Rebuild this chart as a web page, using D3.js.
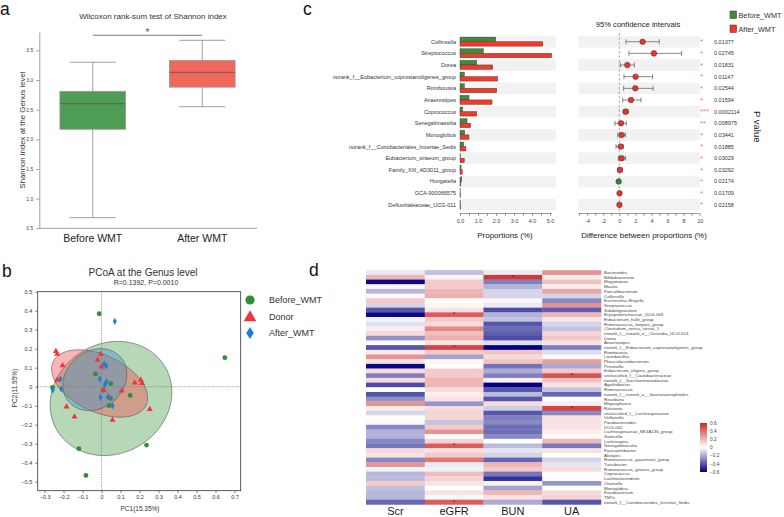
<!DOCTYPE html>
<html><head><meta charset="utf-8">
<script src="https://cdn.jsdelivr.net/npm/d3@7"></script>
<style>body{margin:0;background:#fff}svg{display:block}text{font-family:Arial,"Liberation Sans",sans-serif}</style>
</head><body><svg id="c" width="784" height="517"></svg>
<script>
// ---------- Panel a data ----------
const boxGroups = ["Before WMT", "After WMT"];
const boxMin = [0.68, 2.55];
const boxQ1 = [2.17, 2.88];
const boxMedian = [2.6, 3.13];
const boxQ3 = [2.81, 3.33];
const boxMax = [3.3, 3.67];
const boxColors = ["#4f9d54", "#f0675c"];
const shannonTicks = [0.5, 1, 1.5, 2, 2.5, 3, 3.5];

// ---------- Panel b data ----------
const pcoaGroups = ["Before_WMT", "Donor", "After_WMT"];
const beforeX = [-0.012, 0.649, -0.032, -0.258, 0.049, 0.009, 0.047, 0.039, 0.151, 0.237, -0.119, -0.082];
const beforeY = [0.384, 0.153, 0.067, -0.004, 0.016, -0.019, -0.061, -0.100, -0.046, -0.307, -0.326, -0.467];
const donorX = [-0.240, -0.233, -0.205, -0.233, -0.004, -0.021, 0.000, 0.012, 0.037, 0.107, 0.175, 0.207, 0.214, 0.254, 0.058, -0.142, -0.184];
const donorY = [0.186, 0.172, 0.111, 0.037, 0.172, 0.140, 0.105, -0.018, -0.053, -0.021, 0.021, 0.035, 0.018, -0.119, -0.175, -0.158, -0.105];
const afterX = [0.070, -0.216, -0.256, -0.212, 0.014, 0.025, -0.009, 0.026, 0.018, -0.005, 0.035, 0.058];
const afterY = [0.344, 0.040, -0.018, -0.012, 0.119, 0.109, 0.040, 0.026, 0.011, -0.056, -0.054, -0.100];
const ellCx = [0.05, -0.01, -0.035];
const ellCy = [-0.062, 0.017, 0.037];
const ellA = [0.33, 0.27, 0.18];
const ellB = [0.29, 0.15, 0.15];
const ellAngle = [30, -25, 40];
const pcoaColors = ["#2f8f34", "#f0363a", "#1b80d6"];
const ellFill = ["#4a9e4a", "#f04848", "#3a90c8"];
const pc1Ticks = [-0.3, -0.2, -0.1, 0, 0.1, 0.2, 0.3, 0.4, 0.5, 0.6, 0.7];
const pc2Ticks = [-0.5, -0.4, -0.3, -0.2, -0.1, 0, 0.1, 0.2, 0.3, 0.4, 0.5];

// ---------- Panel c data ----------
const cGenera = ["Collinsella", "Streptococcus", "Dorea", "norank_f__Eubacterium_coprostanoligenes_group", "Romboutsia", "Anaerostipes", "Coprococcus", "Senegalimassilia", "Monoglobus", "norank_f__Coriobacteriales_Incertae_Sedis", "Eubacterium_siraeum_group", "Family_XIII_AD3011_group", "Hungatella", "GCA-900066575", "Defluviitaleaceae_UCG-011"];
const propBefore = [1.98, 1.30, 0.93, 0.24, 0.24, 0.50, 0.15, 0.39, 0.26, 0.20, 0.02, 0.06, 0.10, 0.01, 0.02];
const propAfter = [4.59, 5.09, 1.82, 2.09, 2.04, 1.78, 0.93, 0.59, 0.50, 0.33, 0.24, 0.13, 0.05, 0.03, 0.04];
const diffEst = [2.90, 4.31, 1.00, 2.03, 1.99, 1.45, 0.79, 0.21, 0.29, 0.17, 0.29, 0.08, -0.08, 0.03, 0.02];
const diffLow = [0.83, 1.20, 0.13, 0.58, 0.54, 0.42, 0.50, -0.54, -0.20, -0.41, -0.12, -0.20, -0.20, -0.05, -0.05];
const diffHigh = [4.97, 7.75, 1.87, 4.14, 4.22, 2.70, 1.12, 0.87, 0.75, 0.50, 0.79, 0.37, 0.05, 0.10, 0.08];
const pValues = ["0.01377", "0.02745", "0.01831", "0.01147", "0.02544", "0.01594", "0.0002114", "0.008975", "0.03441", "0.01885", "0.03029", "0.03292", "0.02174", "0.01709", "0.02158"];
const pStars = ["*", "*", "*", "*", "*", "*", "***", "**", "*", "*", "*", "*", "*", "*", "*"];
const propTicks = [0, 0.5, 1, 1.5, 2, 2.5, 3, 3.5, 4, 4.5, 5];
const diffTicks = [-5, -4, -3, -2, -1, 0, 1, 2, 3, 4, 5, 6, 7, 8, 9, 10];
const cLegend = ["Before_WMT", "After_WMT"];
const cColors = ["#3c8c3c", "#ef3b2c"];

// ---------- Panel d data ----------
const heatCols = ["Scr", "eGFR", "BUN", "UA"];
const heatRows = ["Bacteroides", "Bifidobacterium", "Megamonas", "Blautia", "Faecalibacterium", "Collinsella", "Escherichia-Shigella", "Streptococcus", "Subdoligranulum", "Erysipelotrichaceae_UCG-003", "Eubacterium_hallii_group", "Ruminococcus_torques_group", "Clostridium_sensu_stricto_1", "norank_f__norank_o__Clostridia_UCG-014", "Dorea", "Anaerostipes", "norank_f__Eubacterium_coprostanoligenes_group", "Romboutsia", "Lactobacillus", "Phascolarctobacterium", "Prevotella", "Eubacterium_eligens_group", "unclassified_f__Caulobacteraceae", "norank_f__Saccharimonadaceae", "Agathobacter", "Ruminococcus", "norank_f__norank_o__Gastranaerophilales", "Roseburia", "Megasphaera", "Ralstonia", "unclassified_f__Lachnospiraceae", "Veillonella", "Parabacteroides", "UCG-002", "Lachnospiraceae_NK4A136_group", "Sutterella", "Lachnospira", "Senegalimassilia", "Fusicatenibacter", "Alistipes", "Ruminococcus_gauvreauii_group", "Turicibacter", "Ruminococcus_gnavus_group", "Coprococcus", "Lachnoclostridium", "Olsenella", "Monoglobus", "Fusobacterium", "TM7x", "norank_f__Coriobacteriales_Incertae_Sedis"];
const scrR = [-0.05, 0.20, -0.58, 0.03, -0.17, 0.02, 0.15, -0.10, -0.40, -0.58, -0.03, -0.07, 0.05, 0.10, -0.26, 0.02, -0.40, 0.06, 0.30, 0.08, -0.58, 0.10, -0.30, 0.10, -0.42, 0.00, -0.40, -0.26, 0.30, 0.05, -0.10, 0.00, 0.02, -0.28, -0.18, -0.18, -0.28, -0.32, 0.10, 0.08, -0.28, 0.30, -0.03, -0.17, -0.16, 0.15, -0.15, -0.17, -0.17, -0.36];
const egfrR = [-0.15, 0.03, 0.15, 0.15, 0.20, 0.22, 0.00, 0.02, 0.08, 0.45, 0.15, 0.10, 0.33, 0.18, 0.22, 0.08, 0.52, 0.15, -0.22, 0.02, 0.00, 0.15, 0.15, 0.20, 0.20, 0.10, 0.05, 0.08, -0.25, 0.10, 0.12, 0.12, -0.14, 0.15, 0.30, 0.00, 0.12, 0.45, 0.08, 0.15, 0.38, -0.05, -0.03, 0.18, 0.12, 0.08, 0.00, 0.08, 0.02, 0.45];
const bunR = [-0.05, 0.55, -0.30, -0.18, -0.10, -0.10, 0.03, -0.05, -0.42, -0.18, -0.14, -0.40, -0.35, -0.38, -0.42, -0.08, -0.60, 0.17, 0.10, 0.17, -0.33, -0.20, -0.30, 0.05, -0.60, -0.40, -0.16, -0.40, 0.10, -0.12, -0.40, -0.30, -0.28, -0.34, -0.34, -0.28, 0.00, -0.16, -0.06, -0.10, -0.36, 0.20, 0.15, -0.32, -0.48, 0.04, -0.22, 0.20, 0.08, -0.20];
const uaR = [0.30, 0.05, 0.17, 0.05, 0.25, -0.10, -0.28, 0.30, -0.38, 0.20, 0.07, -0.10, -0.14, 0.12, 0.15, 0.08, -0.30, -0.08, 0.02, 0.27, -0.20, 0.15, 0.48, 0.17, 0.08, -0.14, -0.36, 0.00, 0.05, 0.52, -0.28, 0.08, 0.08, 0.08, 0.05, 0.02, 0.20, -0.32, 0.08, 0.00, -0.10, -0.06, 0.10, 0.00, 0.00, -0.25, 0.00, 0.10, 0.12, -0.40];
const sigRows = ["Bifidobacterium", "Megamonas", "Erysipelotrichaceae_UCG-003", "Erysipelotrichaceae_UCG-003", "norank_f__Eubacterium_coprostanoligenes_group", "norank_f__Eubacterium_coprostanoligenes_group", "Prevotella", "unclassified_f__Caulobacteraceae", "Agathobacter", "Ralstonia", "Senegalimassilia", "norank_f__Coriobacteriales_Incertae_Sedis"];
const sigCols = ["BUN", "Scr", "Scr", "eGFR", "eGFR", "BUN", "Scr", "UA", "BUN", "UA", "eGFR", "eGFR"];
const colorbarTicks = [0.6, 0.4, 0.2, 0, -0.2, -0.4, -0.6];

// =====================================================
const svg = d3.select("#c");
svg.append("rect").attr("width", 784).attr("height", 517).attr("fill", "#fff");

// panel letters
[["a", 0, 15.4], ["b", 2, 277], ["c", 303, 15.4], ["d", 309, 276]].forEach(([t, x, y]) =>
  svg.append("text").attr("x", x).attr("y", y).attr("font-size", 17.5).attr("fill", "#111").text(t));

// ---------- Panel a ----------
{
  const g = svg.append("g");
  const y = d3.scaleLinear().domain([0.5, 3.81]).range([228.3, 32]);
  const x = d3.scaleBand().domain(boxGroups).range([38, 257]).paddingInner(0.4).paddingOuter(0.2);
  g.append("text").attr("x", 153).attr("y", 19).attr("text-anchor", "middle").attr("font-size", 8).attr("fill", "#333")
    .text("Wilcoxon rank-sum test of Shannon index");
  const ax = g.append("g").attr("transform", "translate(39.3,0)").call(d3.axisLeft(y).tickValues(shannonTicks).tickSize(3).tickSizeOuter(0));
  ax.selectAll("path,line").attr("stroke", "#777").attr("stroke-width", 0.7);
  ax.selectAll("text").attr("font-size", 5).attr("fill", "#444");
  g.append("line").attr("x1", 39.3).attr("x2", 257).attr("y1", 228.3).attr("y2", 228.3).attr("stroke", "#777").attr("stroke-width", 0.7);
  g.append("text").attr("transform", "translate(25,130) rotate(-90)").attr("text-anchor", "middle").attr("font-size", 7.8).attr("fill", "#333")
    .text("Shannon index at the Genus level");
  boxGroups.forEach((grp, i) => {
    const cx = x(grp) + x.bandwidth() / 2, bw = x.bandwidth(), cap = bw * 0.7;
    g.append("line").attr("x1", cx).attr("x2", cx).attr("y1", y(boxMax[i])).attr("y2", y(boxMin[i])).attr("stroke", "#888").attr("stroke-width", 0.8);
    g.append("line").attr("x1", cx - cap / 2).attr("x2", cx + cap / 2).attr("y1", y(boxMax[i])).attr("y2", y(boxMax[i])).attr("stroke", "#888").attr("stroke-width", 0.8);
    g.append("line").attr("x1", cx - cap / 2).attr("x2", cx + cap / 2).attr("y1", y(boxMin[i])).attr("y2", y(boxMin[i])).attr("stroke", "#888").attr("stroke-width", 0.8);
    g.append("rect").attr("x", x(grp)).attr("width", bw).attr("y", y(boxQ3[i])).attr("height", y(boxQ1[i]) - y(boxQ3[i]))
      .attr("fill", boxColors[i]).attr("stroke", "#999").attr("stroke-width", 0.8);
    g.append("line").attr("x1", x(grp)).attr("x2", x(grp) + bw).attr("y1", y(boxMedian[i])).attr("y2", y(boxMedian[i])).attr("stroke", "#555").attr("stroke-width", 0.8);
    g.append("text").attr("x", cx).attr("y", 241.7).attr("text-anchor", "middle").attr("font-size", 10.5).attr("fill", "#222").text(grp);
  });
  const c1 = x(boxGroups[0]) + x.bandwidth() / 2, c2 = x(boxGroups[1]) + x.bandwidth() / 2;
  g.append("line").attr("x1", c1).attr("x2", c2).attr("y1", y(3.755)).attr("y2", y(3.755)).attr("stroke", "#555").attr("stroke-width", 0.8);
  g.append("text").attr("x", (c1 + c2) / 2).attr("y", y(3.755) + 0.5).attr("text-anchor", "middle").attr("font-size", 10).attr("fill", "#555").text("*");
}

// ---------- Panel b ----------
{
  const g = svg.append("g");
  const L = 37.7, R = 240.7, T = 291.7, B = 490.7;
  const x = d3.scaleLinear().domain([-0.3358, 0.7326]).range([L, R]);
  const y = d3.scaleLinear().domain([-0.5474, 0.5]).range([B, T]);
  g.append("text").attr("x", 143).attr("y", 275.5).attr("text-anchor", "middle").attr("font-size", 10).attr("fill", "#333").text("PCoA at the Genus level");
  g.append("text").attr("x", 146).attr("y", 285).attr("text-anchor", "middle").attr("font-size", 7).attr("fill", "#333").text("R=0.1392, P=0.0010");
  g.append("clipPath").attr("id", "pb").append("rect").attr("x", L).attr("y", T).attr("width", R - L).attr("height", B - T);
  const pg = g.append("g").attr("clip-path", "url(#pb)");
  pcoaGroups.forEach((grp, i) => {
    const th = ellAngle[i] * Math.PI / 180;
    const pts = d3.range(0, 361, 4).map(a => {
      const t = a * Math.PI / 180;
      const ex = ellA[i] * Math.cos(t), ey = ellB[i] * Math.sin(t);
      return [x(ellCx[i] + ex * Math.cos(th) - ey * Math.sin(th)), y(ellCy[i] + ex * Math.sin(th) + ey * Math.cos(th))];
    });
    pg.append("path").attr("d", d3.line().curve(d3.curveLinearClosed)(pts))
      .attr("fill", ellFill[i]).attr("fill-opacity", 0.4).attr("stroke", "#555").attr("stroke-width", 0.6);
  });
  pg.append("line").attr("x1", x(0)).attr("x2", x(0)).attr("y1", T).attr("y2", B).attr("stroke", "#777").attr("stroke-width", 0.7).attr("stroke-dasharray", "1.2,1.2");
  pg.append("line").attr("x1", L).attr("x2", R).attr("y1", y(0)).attr("y2", y(0)).attr("stroke", "#777").attr("stroke-width", 0.7).attr("stroke-dasharray", "1.2,1.2");
  beforeX.forEach((v, k) => pg.append("circle").attr("cx", x(v)).attr("cy", y(beforeY[k])).attr("r", 2.4).attr("fill", pcoaColors[0]));
  const tri = d3.symbol().type(d3.symbolTriangle).size(16);
  donorX.forEach((v, k) => pg.append("path").attr("d", tri()).attr("transform", `translate(${x(v)},${y(donorY[k])})`).attr("fill", pcoaColors[1]));
  const dia = "M0,-3.6L2,0L0,3.6L-2,0Z";
  afterX.forEach((v, k) => pg.append("path").attr("d", dia).attr("transform", `translate(${x(v)},${y(afterY[k])})`).attr("fill", pcoaColors[2]));
  g.append("rect").attr("x", L).attr("y", T).attr("width", R - L).attr("height", B - T).attr("fill", "none").attr("stroke", "#333").attr("stroke-width", 0.8);
  const ax = g.append("g").attr("transform", `translate(0,${B})`).call(d3.axisBottom(x).tickValues(pc1Ticks).tickSize(2.5).tickSizeOuter(0));
  ax.select(".domain").remove();
  ax.selectAll("line").attr("stroke", "#333").attr("stroke-width", 0.6);
  ax.selectAll("text").attr("font-size", 5.5).attr("fill", "#333").attr("dy", "0.55em").text(d => d === 0 ? "0" : d3.format(".1f")(d));
  const ay = g.append("g").attr("transform", `translate(${L},0)`).call(d3.axisLeft(y).tickValues(pc2Ticks).tickSize(2.5).tickSizeOuter(0));
  ay.select(".domain").remove();
  ay.selectAll("line").attr("stroke", "#333").attr("stroke-width", 0.6);
  ay.selectAll("text").attr("font-size", 5.5).attr("fill", "#333").text(d => d === 0 ? "0" : d3.format(".1f")(d));
  g.append("text").attr("x", 140).attr("y", 510.5).attr("text-anchor", "middle").attr("font-size", 6.5).attr("fill", "#333").text("PC1(15.35%)");
  g.append("text").attr("transform", "translate(17,388) rotate(-90)").attr("text-anchor", "middle").attr("font-size", 6.5).attr("fill", "#333").text("PC2(11.95%)");
  const ly = [300, 316.7, 333];
  g.append("circle").attr("cx", 250).attr("cy", ly[0]).attr("r", 4.6).attr("fill", pcoaColors[0]);
  g.append("path").attr("d", d3.symbol().type(d3.symbolTriangle).size(70)()).attr("transform", `translate(250,${ly[1] + 0.8})`).attr("fill", pcoaColors[1]);
  g.append("path").attr("d", "M0,-6L3.8,0L0,6L-3.8,0Z").attr("transform", `translate(250,${ly[2]})`).attr("fill", pcoaColors[2]);
  pcoaGroups.forEach((grp, i) => g.append("text").attr("x", 269).attr("y", ly[i]).attr("dy", "0.35em").attr("font-size", 9).attr("fill", "#333").text(grp));
}

// ---------- Panel c ----------
{
  const g = svg.append("g");
  const mono = "'Liberation Mono','DejaVu Sans Mono',monospace";
  const yb = d3.scaleBand().domain(cGenera).range([35.9, 210.7]);
  const xp = d3.scaleLinear().domain([0, 5.33]).range([460, 556]);
  const xd = d3.scaleLinear().domain([-5.1, 10]).range([578.3, 699.7]);
  const bh = yb.bandwidth();
  cGenera.forEach((gen, i) => {
    if (i % 2 === 0) {
      g.append("rect").attr("x", xp(0)).attr("width", xp(5.33) - xp(0)).attr("y", yb(gen)).attr("height", bh).attr("fill", "#f2f2f2");
      g.append("rect").attr("x", xd(-5.1)).attr("width", xd(10) - xd(-5.1)).attr("y", yb(gen)).attr("height", bh).attr("fill", "#f2f2f2");
    }
  });
  g.append("line").attr("x1", xd(0)).attr("x2", xd(0)).attr("y1", 33).attr("y2", 213.3).attr("stroke", "#888").attr("stroke-width", 0.7).attr("stroke-dasharray", "2.5,2");
  cGenera.forEach((gen, i) => {
    const cy = yb(gen) + bh / 2;
    g.append("text").attr("x", 456).attr("y", cy).attr("dy", "0.35em").attr("text-anchor", "end").attr("font-family", mono).attr("font-size", 5.5).attr("fill", "#333").text(gen);
    g.append("rect").attr("x", xp(0)).attr("y", cy - 4.6).attr("width", xp(propBefore[i]) - xp(0)).attr("height", 4.5).attr("fill", cColors[0]).attr("stroke", "#333").attr("stroke-width", 0.4);
    g.append("rect").attr("x", xp(0)).attr("y", cy - 0.1).attr("width", xp(propAfter[i]) - xp(0)).attr("height", 4.5).attr("fill", cColors[1]).attr("stroke", "#333").attr("stroke-width", 0.4);
    g.append("line").attr("x1", xd(diffLow[i])).attr("x2", xd(diffHigh[i])).attr("y1", cy).attr("y2", cy).attr("stroke", "#555").attr("stroke-width", 0.7);
    [diffLow[i], diffHigh[i]].forEach(v => g.append("line").attr("x1", xd(v)).attr("x2", xd(v)).attr("y1", cy - 2.5).attr("y2", cy + 2.5).attr("stroke", "#555").attr("stroke-width", 0.7));
    g.append("circle").attr("cx", xd(diffEst[i])).attr("cy", cy).attr("r", 2.8).attr("fill", diffEst[i] > 0 ? "#e8352b" : "#2d8a2d").attr("stroke", "#333").attr("stroke-width", 0.5);
    g.append("text").attr("x", 700).attr("y", cy + 2.6).attr("font-size", 8).attr("fill", "#f08080").text(pStars[i]);
    g.append("text").attr("x", 714).attr("y", cy).attr("dy", "0.35em").attr("font-family", mono).attr("font-size", 5.5).attr("fill", "#333").text(pValues[i]);
  });
  const ap = g.append("g").attr("transform", "translate(0,213.5)").call(d3.axisBottom(xp).tickValues(propTicks).tickSize(2.5).tickSizeOuter(0).tickFormat(d => d % 1 === 0 ? d.toFixed(1) : ""));
  ap.select(".domain").attr("d", `M${xp(0)},0H${xp(5.1)}`);
  ap.selectAll("path,line").attr("stroke", "#555").attr("stroke-width", 0.6);
  ap.selectAll("text").attr("font-family", mono).attr("font-size", 5.5).attr("fill", "#444");
  g.append("text").attr("x", 505).attr("y", 238).attr("text-anchor", "middle").attr("font-size", 8).attr("fill", "#222").text("Proportions (%)");
  const ad = g.append("g").attr("transform", "translate(0,213.5)").call(d3.axisBottom(xd).tickValues(diffTicks).tickSize(2.5).tickSizeOuter(0).tickFormat(d => d % 2 === 0 ? d : ""));
  ad.select(".domain").attr("d", `M${xd(-5.1)},0H${xd(10)}`);
  ad.selectAll("path,line").attr("stroke", "#555").attr("stroke-width", 0.6);
  ad.selectAll("text").attr("font-family", mono).attr("font-size", 5.5).attr("fill", "#444");
  g.append("text").attr("x", 644).attr("y", 238.3).attr("text-anchor", "middle").attr("font-size", 8).attr("fill", "#222").text("Difference between proportions (%)");
  g.append("text").attr("x", 638).attr("y", 27).attr("text-anchor", "middle").attr("font-size", 7.6).attr("fill", "#222").text("95% confidence intervals");
  g.append("text").attr("transform", "translate(754,126.7) rotate(90)").attr("text-anchor", "middle").attr("font-size", 9.5).attr("fill", "#222").text("P value");
  cLegend.forEach((l, i) => {
    g.append("rect").attr("x", 730).attr("y", 11 + i * 14).attr("width", 6.5).attr("height", 7.5).attr("fill", cColors[i]).attr("stroke", "#333").attr("stroke-width", 0.5);
    g.append("text").attr("x", 738.5).attr("y", 15 + i * 14).attr("dy", "0.35em").attr("font-size", 7.3).attr("fill", "#333").text(l);
  });
}

// ---------- Panel d ----------
{
  const g = svg.append("g");
  const x = d3.scaleBand().domain(heatCols).range([366, 601]);
  const y = d3.scaleBand().domain(heatRows).range([270.2, 504.4]);
  const col = d3.scaleLinear().domain([-0.6, 0, 0.6]).range(["#000080", "#ffffff", "#cd2626"]).clamp(true);
  const vals = [scrR, egfrR, bunR, uaR];
  heatCols.forEach((c, j) => heatRows.forEach((r, i) => {
    g.append("rect").attr("x", x(c)).attr("y", y(r)).attr("width", x.bandwidth() + 0.3).attr("height", y.bandwidth() + 0.3).attr("fill", col(vals[j][i]));
  }));
  sigRows.forEach((r, k) => g.append("text").attr("x", x(sigCols[k]) + x.bandwidth() / 2).attr("y", y(r) + y.bandwidth() / 2 + 1.6)
    .attr("text-anchor", "middle").attr("font-size", 4.6).attr("fill", "#111").text("*"));
  heatRows.forEach(r => g.append("text").attr("x", 604).attr("y", y(r) + y.bandwidth() / 2).attr("dy", "0.35em").attr("font-size", 4.4).attr("fill", "#444").text(r));
  heatCols.forEach(c => g.append("text").attr("x", x(c) + x.bandwidth() / 2).attr("y", 514.7).attr("text-anchor", "middle").attr("font-size", 11).attr("fill", "#222").text(c));
  const cb = d3.scaleLinear().domain([-0.6, 0.6]).range([472, 423]);
  const defs = svg.append("defs");
  const lg = defs.append("linearGradient").attr("id", "cbg").attr("x1", 0).attr("y1", 1).attr("x2", 0).attr("y2", 0);
  d3.range(-0.6, 0.61, 0.1).forEach(v => lg.append("stop").attr("offset", (v + 0.6) / 1.2).attr("stop-color", col(v)));
  g.append("rect").attr("x", 700).attr("y", cb(0.6)).attr("width", 7).attr("height", cb(-0.6) - cb(0.6)).attr("fill", "url(#cbg)");
  colorbarTicks.forEach(t => g.append("text").attr("x", 710).attr("y", cb(t)).attr("dy", "0.35em").attr("font-size", 4.8).attr("fill", "#444").text(t === 0 ? "0" : d3.format(".1f")(t)));
}
</script></body></html>
